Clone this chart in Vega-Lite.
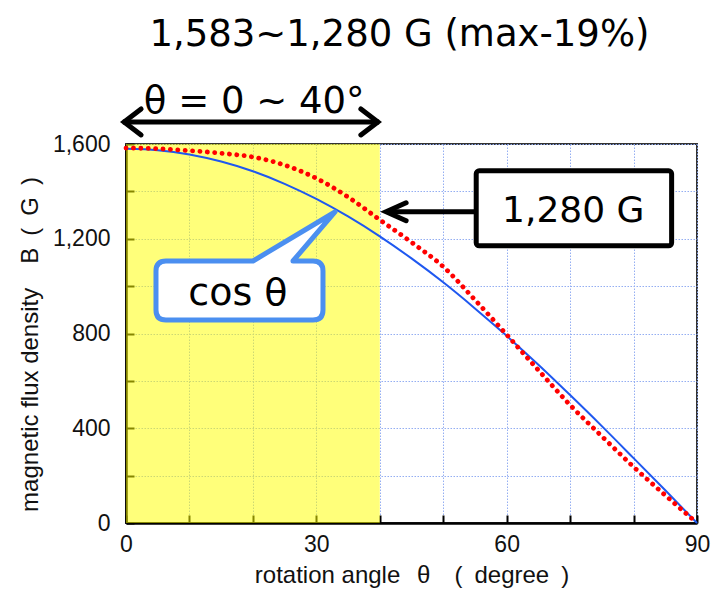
{
  "$schema": "https://vega.github.io/schema/vega-lite/v6.json",
  "width": 571,
  "height": 379,
  "autosize": {"type": "none"},
  "padding": {"left": 126, "top": 144, "right": 16, "bottom": 68},
  "background": "white",
  "config": {
    "view": {"stroke": "#333333", "strokeWidth": 2},
    "axis": {
      "labelFont": "Liberation Sans",
      "titleFont": "Liberation Sans",
      "labelFontSize": 23,
      "titleFontSize": 24,
      "titleFontWeight": "normal",
      "labelColor": "#111111",
      "titleColor": "#111111",
      "domainColor": "#000000",
      "domainWidth": 2.5,
      "tickColor": "#000000",
      "tickWidth": 2,
      "tickSize": -8,
      "grid": true,
      "gridColor": "#94aef2",
      "gridDash": [1.5, 1.5],
      "gridWidth": 1,
      "labelFlush": false
    }
  },
  "datasets": {
    "cosine": [
      {"angle": 0, "B": 1580}, {"angle": 5, "B": 1574}, {"angle": 10, "B": 1556},
      {"angle": 15, "B": 1526}, {"angle": 20, "B": 1485}, {"angle": 25, "B": 1432},
      {"angle": 30, "B": 1368}, {"angle": 35, "B": 1294}, {"angle": 40, "B": 1210},
      {"angle": 45, "B": 1117}, {"angle": 50, "B": 1016}, {"angle": 55, "B": 906},
      {"angle": 60, "B": 790}, {"angle": 65, "B": 668}, {"angle": 70, "B": 540},
      {"angle": 75, "B": 409}, {"angle": 80, "B": 274}, {"angle": 85, "B": 138},
      {"angle": 90, "B": 0}
    ],
    "measured": [
      {"angle": 0, "B": 1583}, {"angle": 5, "B": 1580}, {"angle": 10, "B": 1572},
      {"angle": 15, "B": 1561}, {"angle": 20, "B": 1545}, {"angle": 25, "B": 1511},
      {"angle": 30, "B": 1455}, {"angle": 35, "B": 1376}, {"angle": 40, "B": 1280},
      {"angle": 45, "B": 1185}, {"angle": 50, "B": 1082}, {"angle": 55, "B": 942},
      {"angle": 60, "B": 795}, {"angle": 65, "B": 645}, {"angle": 70, "B": 498},
      {"angle": 75, "B": 366}, {"angle": 80, "B": 237}, {"angle": 85, "B": 117},
      {"angle": 90, "B": 0}
    ]
  },
  "layer": [
    {
      "data": {"values": [{"angle": 0, "angleEnd": 40, "B": 0, "BEnd": 1600}]},
      "mark": {"type": "rect", "color": "#ffff00", "opacity": 0.52},
      "encoding": {
        "x": {
          "field": "angle",
          "type": "quantitative",
          "scale": {"domain": [0, 90], "nice": false, "zero": false},
          "axis": {
            "values": [0, 10, 20, 30, 40, 50, 60, 70, 80, 90],
            "labelExpr": "datum.value % 30 === 0 ? datum.label : ''",
            "title": "rotation angle\u2002\u2009θ\u2003(\u2002degree\u2002)",
            "labelPadding": 18,
            "titleBaseline": "alphabetic",
            "titleY": 59
          }
        },
        "x2": {"field": "angleEnd"},
        "y": {
          "field": "B",
          "type": "quantitative",
          "scale": {"domain": [0, 1600], "nice": false},
          "axis": {
            "values": [0, 200, 400, 600, 800, 1000, 1200, 1400, 1600],
            "format": ",.0f",
            "labelExpr": "datum.value % 400 === 0 ? datum.label : ''",
            "title": "magnetic flux density\u2003B\u2002(\u2002G\u2002)",
            "labelPadding": 24,
            "titleAngle": -90,
            "titleAlign": "center",
            "titleBaseline": "alphabetic",
            "titleX": -89,
            "titleY": 200
          }
        },
        "y2": {"field": "BEnd"}
      }
    },
    {
      "data": {"name": "cosine"},
      "mark": {"type": "line", "color": "#1f58f0", "strokeWidth": 2, "interpolate": "monotone"},
      "encoding": {
        "x": {"field": "angle", "type": "quantitative"},
        "y": {"field": "B", "type": "quantitative"}
      }
    },
    {
      "data": {"name": "measured"},
      "mark": {"type": "line", "color": "#ff0000", "strokeWidth": 4.8, "strokeCap": "round", "strokeDash": [0.1, 7.3], "interpolate": "monotone"},
      "encoding": {
        "x": {"field": "angle", "type": "quantitative"},
        "y": {"field": "B", "type": "quantitative"}
      }
    },
    {
      "data": {"values": [
        {"angle": -0.5, "angleEnd": 39.9, "B": 1693},
        {"angle": 41.2, "angleEnd": 55.2, "B": 1314}
      ]},
      "mark": {"type": "rule", "color": "#000000", "strokeWidth": 5},
      "encoding": {
        "x": {"field": "angle", "type": "quantitative"},
        "x2": {"field": "angleEnd"},
        "y": {"field": "B", "type": "quantitative"}
      }
    },
    {
      "data": {"values": [
        {"angle": -0.3, "B": 1693, "head": "span-left"},
        {"angle": 39.7, "B": 1693, "head": "span-right"},
        {"angle": 41.0, "B": 1314, "head": "note-left"}
      ]},
      "mark": {"type": "point", "filled": false, "size": 4, "stroke": "#000000", "strokeWidth": 5, "opacity": 1, "strokeJoin": "miter", "strokeCap": "round"},
      "encoding": {
        "x": {"field": "angle", "type": "quantitative"},
        "y": {"field": "B", "type": "quantitative"},
        "shape": {
          "field": "head",
          "type": "nominal",
          "legend": null,
          "scale": {
            "domain": ["span-left", "span-right", "note-left"],
            "range": ["M 17 -13 L 0 0 L 17 13", "M -17 -13 L 0 0 L -17 13", "M 20 -9 L 0 0 L 20 9"]
          }
        }
      }
    },
    {
      "data": {"values": [{"angle": 55.2, "angleEnd": 86.0, "B": 1170, "BEnd": 1487}]},
      "mark": {"type": "rect", "fill": "#ffffff", "stroke": "#000000", "strokeWidth": 5, "cornerRadius": 3},
      "encoding": {
        "x": {"field": "angle", "type": "quantitative"},
        "x2": {"field": "angleEnd"},
        "y": {"field": "B", "type": "quantitative"},
        "y2": {"field": "BEnd"}
      }
    },
    {
      "data": {"values": [{"angle": 32.94, "B": 1313}]},
      "mark": {
        "type": "point",
        "shape": "M -82 49 L -169 49 Q -179 49 -179 59 L -179 98 Q -179 108 -169 108 L -22 108 Q -12 108 -12 98 L -12 59 Q -12 49 -22 49 L -42 49 L 0 0 Z",
        "size": 4,
        "filled": true,
        "fill": "#ffffff",
        "stroke": "#4b8ff0",
        "strokeWidth": 5,
        "strokeJoin": "round",
        "opacity": 1
      },
      "encoding": {
        "x": {"field": "angle", "type": "quantitative"},
        "y": {"field": "B", "type": "quantitative"}
      }
    },
    {
      "data": {"values": [
        {"angle": 43.1, "B": 2013, "note": "1,583~1,280 G (max-19%)"},
        {"angle": 20.2, "B": 1731, "note": "θ = 0 ~ 40°"}
      ]},
      "mark": {"type": "text", "font": "DejaVu Sans", "fontSize": 37, "color": "#000000", "align": "center", "baseline": "alphabetic"},
      "encoding": {
        "x": {"field": "angle", "type": "quantitative"},
        "y": {"field": "B", "type": "quantitative"},
        "text": {"field": "note"}
      }
    },
    {
      "data": {"values": [{"angle": 70.5, "B": 1271, "note": "1,280 G"}]},
      "mark": {"type": "text", "font": "DejaVu Sans", "fontSize": 36, "color": "#000000", "align": "center", "baseline": "alphabetic"},
      "encoding": {
        "x": {"field": "angle", "type": "quantitative"},
        "y": {"field": "B", "type": "quantitative"},
        "text": {"field": "note"}
      }
    },
    {
      "data": {"values": [{"angle": 17.65, "B": 920, "note": "cos θ"}]},
      "mark": {"type": "text", "font": "DejaVu Sans", "fontSize": 38, "color": "#000000", "align": "center", "baseline": "alphabetic"},
      "encoding": {
        "x": {"field": "angle", "type": "quantitative"},
        "y": {"field": "B", "type": "quantitative"},
        "text": {"field": "note"}
      }
    }
  ]
}
